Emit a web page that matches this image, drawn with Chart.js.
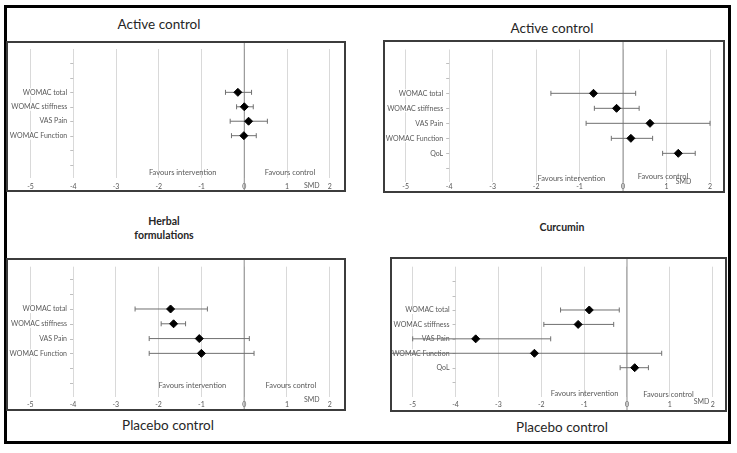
<!DOCTYPE html>
<html>
<head>
<meta charset="utf-8">
<script src="https://cdn.jsdelivr.net/npm/chart.js@4.4.0/dist/chart.umd.min.js"></script>
<style>
  body { margin:0; width:737px; height:453px; background:#fff; position:relative; overflow:hidden; font-family: Lato, "Open Sans", sans-serif; }
  #frame { position:absolute; left:4px; top:5px; width:727px; height:439px; box-sizing:border-box; border:3px solid #000; }
  .box { position:absolute; box-sizing:border-box; border:2px solid #3c3c3c; background:#fff; }
  .box canvas { display:block; }
  .title { position:absolute; transform:translate(-50%,-50%); white-space:nowrap; color:#262626; }
  .big { font-size:13.5px; }
  .sub { font-size:10.5px; font-weight:bold; text-align:center; line-height:14px; }
</style>
</head>
<body>
<div id="frame"></div>

<div class="title big" style="left:159px;top:24px">Active control</div>
<div class="title big" style="left:552px;top:28px">Active control</div>
<div class="title sub" style="left:164px;top:228px">Herbal<br>formulations</div>
<div class="title sub" style="left:562px;top:227px">Curcumin</div>
<div class="title big" style="left:168px;top:425px">Placebo control</div>
<div class="title big" style="left:562px;top:427px">Placebo control</div>

<div class="box" style="left:6px;top:41px;width:340px;height:151px"><canvas id="cTL" width="336" height="147"></canvas></div>
<div class="box" style="left:383px;top:40px;width:342px;height:153px"><canvas id="cTR" width="338" height="149"></canvas></div>
<div class="box" style="left:6px;top:258px;width:340px;height:153px"><canvas id="cBL" width="336" height="149"></canvas></div>
<div class="box" style="left:390px;top:257px;width:337px;height:155px"><canvas id="cBR" width="333" height="151"></canvas></div>

<script>
// ===== DATA =====
const outcomes = ["WOMAC total", "WOMAC stiffness", "VAS Pain", "WOMAC Function"];
const outcomesQoL = ["WOMAC total", "WOMAC stiffness", "VAS Pain", "WOMAC Function", "QoL"];
const rowsY = [6, 5, 4, 3, 2];          // category rows on the y scale
const xTicks = [-5, -4, -3, -2, -1, 0, 1, 2];

// herbal formulations vs active control
const herbalActiveSmd  = [-0.15, 0.00, 0.10, -0.01];
const herbalActiveLow  = [-0.44, -0.18, -0.33, -0.30];
const herbalActiveHigh = [0.17, 0.21, 0.54, 0.28];

// curcumin vs active control
const curcActiveSmd  = [-0.68, -0.15, 0.62, 0.18, 1.27];
const curcActiveLow  = [-1.66, -0.66, -0.85, -0.27, 0.91];
const curcActiveHigh = [0.29, 0.37, 2.00, 0.68, 1.66];

// herbal formulations vs placebo
const herbalPlaceboSmd  = [-1.72, -1.65, -1.05, -1.00];
const herbalPlaceboLow  = [-2.55, -1.94, -2.22, -2.22];
const herbalPlaceboHigh = [-0.86, -1.37, 0.12, 0.23];

// curcumin vs placebo
const curcPlaceboSmd  = [-0.88, -1.14, -3.53, -2.16, 0.18];
const curcPlaceboLow  = [-1.55, -1.94, -5.00, -5.60, -0.16];
const curcPlaceboHigh = [-0.18, -0.31, -1.78, 0.81, 0.50];

const GREY_TXT = "#595959";

// ===== ONE FOREST PANEL =====
function makePanel(id, cats, smd, low, high, cfg) {
  const rows = rowsY.slice(0, cats.length);

  const textLayer = {
    id: "textLayer",
    beforeDatasetsDraw(chart) {
      const { ctx, scales: { x, y } } = chart;
      const axisX = x.getPixelForValue(-4);
      ctx.save();
      // small ticks of the category axis
      ctx.strokeStyle = "#bfbfbf";
      ctx.lineWidth = 1;
      for (let v = 1; v <= 8; v++) {
        const py = Math.round(y.getPixelForValue(v)) + 0.5;
        ctx.beginPath();
        ctx.moveTo(axisX - 3, py);
        ctx.lineTo(axisX, py);
        ctx.stroke();
      }
      // category labels
      ctx.font = "7px Lato";
      ctx.textAlign = "right";
      ctx.textBaseline = "middle";
      cats.forEach((c, i) => {
        const py = y.getPixelForValue(rows[i]);
        const w = ctx.measureText(c).width;
        ctx.fillStyle = "#fff";
        ctx.fillRect(axisX - 6 - w - 1, py - 4, w + 2, 8);
        ctx.fillStyle = GREY_TXT;
        ctx.fillText(c, axisX - 6, py);
      });
      // notes
      ctx.textAlign = "center";
      cfg.notes.forEach(n => {
        ctx.font = n.size + "px Lato";
        ctx.fillText(n.text, x.getPixelForValue(n.x), y.getPixelForValue(n.y));
      });
      ctx.restore();
    }
  };

  const datasets = [];
  // diamonds
  datasets.push({
    data: cats.map((c, i) => ({ x: smd[i], y: rows[i] })),
    pointStyle: "rectRot",
    pointRadius: 4,
    pointBackgroundColor: "#000",
    pointBorderColor: "#000",
    order: 0
  });
  // confidence intervals
  cats.forEach((c, i) => {
    datasets.push({
      data: [{ x: low[i], y: rows[i] }, { x: high[i], y: rows[i] }],
      showLine: true,
      borderColor: "#707070",
      borderWidth: 1,
      pointStyle: "line",
      pointRotation: 90,
      pointRadius: 2.5,
      pointBorderColor: "#707070",
      pointBorderWidth: 1,
      order: 1
    });
  });
  // line of no effect
  datasets.push({
    data: [{ x: 0, y: cfg.yMin - 3 }, { x: 0, y: cfg.yMax + 3 }],
    showLine: true,
    borderColor: "#8c8c8c",
    borderWidth: 1,
    pointRadius: 0,
    clip: false,
    order: 2
  });

  new Chart(document.getElementById(id), {
    type: "scatter",
    data: { datasets },
    options: {
      responsive: false,
      animation: false,
      layout: { autoPadding: false, padding: { top: cfg.padTop, bottom: 0, left: 0, right: 0 } },
      plugins: { legend: { display: false }, tooltip: { enabled: false } },
      scales: {
        x: {
          type: "linear",
          min: cfg.xMin,
          max: cfg.xMax,
          afterBuildTicks: s => { s.ticks = xTicks.map(v => ({ value: v })); },
          afterFit: s => { s.height = cfg.axisH; },
          ticks: { color: GREY_TXT, font: { family: "Lato", size: 7, lineHeight: 1 }, padding: cfg.tickPad, maxRotation: 0, autoSkip: false },
          grid: { color: "#d9d9d9", drawTicks: false },
          border: { display: false }
        },
        y: { display: false, min: cfg.yMin, max: cfg.yMax }
      }
    },
    plugins: [textLayer]
  });
}

makePanel("cTL", outcomes, herbalActiveSmd, herbalActiveLow, herbalActiveHigh, {
  xMin: -5.526, xMax: 2.332, yMin: 0.07, yMax: 9.0, padTop: 6, axisH: 12, tickPad: 5.5,
  notes: [
    { text: "Favours intervention", x: -1.44, y: 0.44, size: 7.5 },
    { text: "Favours control", x: 1.07, y: 0.44, size: 7.5 },
    { text: "SMD", x: 1.58, y: -0.48, size: 7 }
  ]
});

makePanel("cTR", outcomesQoL, curcActiveSmd, curcActiveLow, curcActiveHigh, {
  xMin: -5.476, xMax: 2.299, yMin: 0.09, yMax: 8.92, padTop: 7.5, axisH: 9, tickPad: 1.2,
  notes: [
    { text: "Favours intervention", x: -1.19, y: 0.35, size: 7.5 },
    { text: "Favours control", x: 0.92, y: 0.42, size: 7.5 },
    { text: "SMD", x: 1.39, y: 0.09, size: 7 }
  ]
});

makePanel("cBL", outcomes, herbalPlaceboSmd, herbalPlaceboLow, herbalPlaceboHigh, {
  xMin: -5.519, xMax: 2.332, yMin: 0.07, yMax: 8.86, padTop: 6.7, axisH: 12.3, tickPad: 4.8,
  notes: [
    { text: "Favours intervention", x: -1.21, y: 0.82, size: 7.5 },
    { text: "Favours control", x: 1.09, y: 0.82, size: 7.5 },
    { text: "SMD", x: 1.58, y: -0.15, size: 7 }
  ]
});

makePanel("cBR", outcomesQoL, curcPlaceboSmd, curcPlaceboLow, curcPlaceboHigh, {
  xMin: -5.483, xMax: 2.287, yMin: -0.01, yMax: 9.0, padTop: 7.7, axisH: 13.3, tickPad: 4.8,
  notes: [
    { text: "Favours intervention", x: -0.99, y: 0.24, size: 7.5 },
    { text: "Favours control", x: 0.97, y: 0.11, size: 7.5 },
    { text: "SMD", x: 1.74, y: -0.36, size: 7 }
  ]
});
</script>
</body>
</html>
